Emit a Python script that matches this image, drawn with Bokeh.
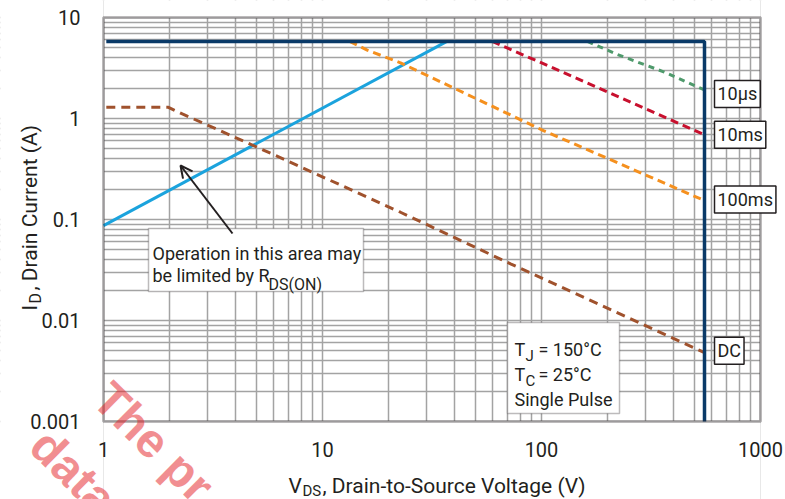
import math
from bokeh.plotting import figure
from bokeh.models import FixedTicker, Label, BoxAnnotation, Arrow, OpenHead, Range1d
from bokeh.embed import file_html
from bokeh.resources import INLINE

# ---------------- data ----------------
# package / RDS(on) limits
VDS_LIMIT = [1.03, 555, 555]
ID_LIMIT = [5.8, 5.8, 0.001]
VDS_RDS = [1.0, 37.0]
ID_RDS = [0.087, 5.8]
# single pulse curves
VDS_10US = [162, 222, 361, 555]
ID_10US = [5.8, 4.3, 2.9, 1.92]
VDS_10MS = [59.6, 186, 555]
ID_10MS = [5.8, 1.97, 0.69]
VDS_100MS = [13.3, 16, 22.7, 102, 555]
ID_100MS = [5.8, 4.75, 3.56, 0.76, 0.154]
VDS_DC = [1.03, 1.98, 2.29, 4.84, 22.7, 72.2, 555]
ID_DC = [1.29, 1.29, 1.11, 0.54, 0.118, 0.0364, 0.0048]

CURVE_NAMES = ["10µs", "10ms", "100ms", "DC"]

X_TICKS = [1, 10, 100, 1000]
X_TICK_LABELS = ["1", "10", "100", "1000"]
Y_TICKS = [0.001, 0.01, 0.1, 1, 10]
Y_TICK_LABELS = ["0.001", "0.01", "0.1", "1", "10"]

# ---------------- layout ----------------
W, H = 785, 499
FL, FR, FT, FB = 103, 760, 17, 421  # plot box edges in pixels
FONT = "Roboto"
INK = "#231f20"
GRID = "#a3a3a3"
NAVY = "#0a3a68"
CYAN = "#1ba3dd"
GREEN = "#4f9a6c"
RED = "#c8102e"
ORANGE = "#f5901e"
BROWN = "#a0522d"


def px(x, y):
    """pixel position -> data coordinates (log axes)"""
    dx = 10 ** ((x - FL) / (FR - FL) * math.log10(X_TICKS[-1] / X_TICKS[0])) * X_TICKS[0]
    dy = 10 ** (math.log10(Y_TICKS[-1]) - (y - FT) / (FB - FT) * math.log10(Y_TICKS[-1] / Y_TICKS[0]))
    return dx, dy


# the frame covers the whole canvas so that texts outside the plot box are not clipped
x0, y1 = px(0, 0)
x1, y0 = px(W, H)
p = figure(width=W, height=H, x_axis_type="log", y_axis_type="log",
           x_range=Range1d(x0, x1), y_range=Range1d(y0, y1),
           output_backend="svg", toolbar_location=None, min_border=0)
p.outline_line_color = None
p.background_fill_color = "white"
p.border_fill_color = "white"

minor_x = [m * 10 ** d for d in range(0, 3) for m in range(2, 10)]
minor_y = [m * 10 ** d for d in range(-3, 1) for m in range(2, 10)]
p.xaxis.ticker = FixedTicker(ticks=X_TICKS, minor_ticks=minor_x)
p.yaxis.ticker = FixedTicker(ticks=Y_TICKS, minor_ticks=minor_y)
p.xaxis.major_label_overrides = {t: l for t, l in zip(X_TICKS, X_TICK_LABELS)}
p.yaxis.major_label_overrides = {t: l for t, l in zip(Y_TICKS, Y_TICK_LABELS)}
p.xaxis.fixed_location = Y_TICKS[0]
p.yaxis.fixed_location = X_TICKS[0]
for ax in (p.xaxis, p.yaxis):
    ax.axis_line_color = None
    ax.major_tick_line_color = None
    ax.minor_tick_line_color = None
    ax.major_label_text_font = FONT
    ax.major_label_text_font_size = "20px"
    ax.major_label_text_color = INK
p.xaxis.major_label_standoff = 14
p.yaxis.major_label_standoff = 17

for g in (p.xgrid, p.ygrid):
    g.grid_line_color = GRID
    g.grid_line_width = 1.5
    g.minor_grid_line_color = GRID
    g.minor_grid_line_width = 1.5

# white masks hiding the grid outside the plot box
bx0, bx1 = X_TICKS[0], X_TICKS[-1]
by0, by1 = Y_TICKS[0], Y_TICKS[-1]
for l, r, b, t in [(x0, bx0, y0, y1), (bx1, x1, y0, y1),
                   (bx0, bx1, by1, y1), (bx0, bx1, y0, by0)]:
    p.add_layout(BoxAnnotation(left=l, right=r, bottom=b, top=t, level="underlay",
                               fill_color="white", fill_alpha=1.0, line_alpha=0))

# ---------------- curves ----------------
p.line(VDS_RDS, ID_RDS, line_color=CYAN, line_width=3)
p.line(VDS_10US, ID_10US, line_color=GREEN, line_width=3, line_dash="6 5")
p.line(VDS_10MS, ID_10MS, line_color=RED, line_width=3, line_dash="8 5")
p.line(VDS_100MS, ID_100MS, line_color=ORANGE, line_width=3, line_dash="8 5")
p.line(VDS_DC, ID_DC, line_color=BROWN, line_width=3, line_dash="9 6")
p.line(VDS_LIMIT, ID_LIMIT, line_color=NAVY, line_width=3.5)

# plot box outline
p.add_layout(BoxAnnotation(left=bx0, right=bx1, bottom=by0, top=by1,
                           fill_alpha=0, line_color=INK, line_width=3))

# ---------------- curve labels ----------------
ends = [(VDS_10US[-1], ID_10US[-1]), (VDS_10MS[-1], ID_10MS[-1]),
        (VDS_100MS[-1], ID_100MS[-1]), (VDS_DC[-1], ID_DC[-1])]
y_offs = [-4, 0, 1, 2]
for name, (vx, iy), yo in zip(CURVE_NAMES, ends, y_offs):
    p.add_layout(Label(x=vx, y=iy, x_offset=10, y_offset=yo, text=name,
                       text_align="left", text_baseline="middle",
                       text_font=FONT, text_font_size="18px", text_color=INK,
                       background_fill_color="white", border_line_color=INK,
                       border_line_width=1.5, padding=3))


def txt(x, y, text, size="18px", angle=0.0, color=INK, style="normal",
        font=FONT, alpha=1.0):
    dx, dy = px(x, y)
    lab = Label(x=dx, y=dy, text=text, text_align="left",
                text_baseline="alphabetic", angle=angle,
                text_font=font, text_font_size=size, text_color=color,
                text_font_style=style, text_alpha=alpha)
    p.add_layout(lab)


def box(xa, ya, xb, yb):
    l, t = px(xa, ya)
    r, b = px(xb, yb)
    p.add_layout(BoxAnnotation(left=l, right=r, top=t, bottom=b,
                               fill_color="white", fill_alpha=1.0,
                               line_color=INK, line_width=1.5))


# RDS(on) note
box(148, 228, 363, 291)
txt(152, 253, "Operation in this area may")
txt(152, 275, "be limited by R")
txt(268, 284, "DS(ON)", size="16px")
ax0, ay0 = px(232, 233)
ax1, ay1 = px(180, 165)
p.add_layout(Arrow(x_start=ax0, y_start=ay0, x_end=ax1, y_end=ay1,
                   line_color=INK, line_width=2,
                   end=OpenHead(size=12, line_color=INK, line_width=2)))

# conditions box
box(507, 322, 619, 413)
txt(514, 349, "T")
txt(525, 355, "J", size="15px")
txt(538, 349, "= 150°C")
txt(514, 374, "T")
txt(525, 380, "C", size="15px")
txt(538, 374, "= 25°C")
txt(514, 399, "Single Pulse")

# axis titles
txt(288, 485, "V", size="21px")
txt(302, 490, "DS", size="15px")
txt(322, 485, ", Drain-to-Source Voltage (V)", size="21px")
txt(29, 310, "I", size="21px", angle=math.pi / 2)
txt(35, 303, "D", size="16px", angle=math.pi / 2)
txt(29, 290, ", Drain Current (A)", size="21px", angle=math.pi / 2)

# watermark
txt(101, 390, "The pr", size="48px", angle=-0.78, color="#e31e24",
    style="bold", font="Liberation Sans", alpha=0.5)
txt(38, 437, "data", size="48px", angle=-0.78, color="#e31e24",
    style="bold", font="Liberation Sans", alpha=0.5)

open("out.html", "w").write(file_html(p, INLINE))
